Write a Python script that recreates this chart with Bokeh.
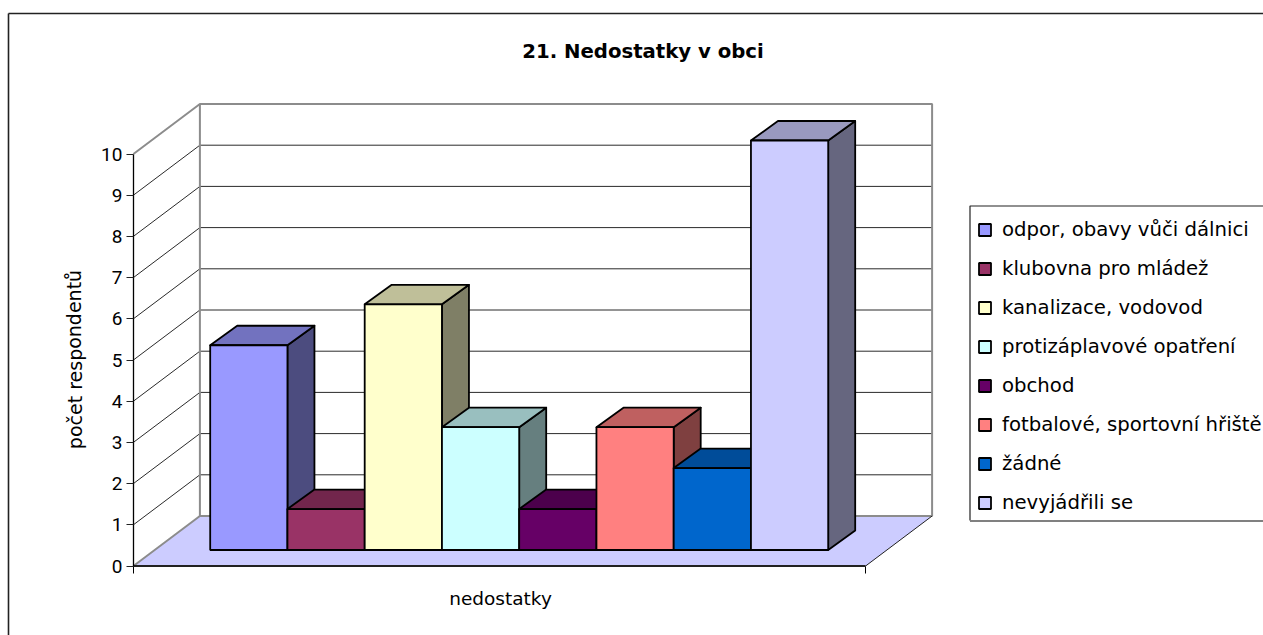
from bokeh.embed import file_html
from bokeh.resources import INLINE
from bokeh.plotting import figure
from bokeh.models import Range1d, LinearAxis, FixedTicker, Legend, LegendItem
from bokeh.core.properties import value

# ---- data
categories = ["odpor, obavy vůči dálnici", "klubovna pro mládež", "kanalizace, vodovod",
              "protizáplavové opatření", "obchod", "fotbalové, sportovní hřiště",
              "žádné", "nevyjádřili se"]
counts = [5, 1, 6, 3, 1, 3, 2, 10]
colors = ["#9999FF", "#993366", "#FFFFCC", "#CCFFFF", "#660066", "#FF8080", "#0066CC", "#CCCCFF"]
y_ticks = list(range(0, 11))
title_text = "21. Nedostatky v obci"
x_label = "nedostatky"
y_label = "počet respondentů"

FONT = "DejaVu Sans"
FS = "19.7px"

# ---- layout (page pixels)
W, H = 1263, 635
PAGE = 0
X0, UX = 209.7, 77.25      # first bar's left edge, one category wide
Y0, UY = 565.5, 41.2       # value 0 on the front plane, one unit high
BAR_UY = 40.95
BAR_BASE = 549.5
FRONT_L, FRONT_R = 132.9, 865.1
DX, DY = 66.5, -50.0       # full chart depth
BX, BY = 27.0, -19.5       # bar depth


def xd(px):
    return (px - X0) / UX


def yd(py):
    return (Y0 - py) / UY


p = figure(width=W, height=H, output_backend="svg", toolbar_location=None,
           x_range=Range1d(xd(PAGE), xd(PAGE + W)), y_range=Range1d(yd(PAGE + H), yd(PAGE)),
           x_axis_location=None, y_axis_location=None, min_border=0,
           outline_line_color=None, background_fill_color="white", border_fill_color="white")
p.grid.visible = False

# outer frame
p.multi_line([[xd(8), xd(8)], [xd(8), xd(1263)]], [[yd(13), yd(635)], [yd(13), yd(13)]],
             line_color="#222222", line_width=1.6)

# floor
p.patch([xd(FRONT_L), xd(FRONT_R), xd(FRONT_R + DX), xd(FRONT_L + DX)],
        [yd(Y0), yd(Y0), yd(Y0 + DY), yd(Y0 + DY)], fill_color="#CCCCFF", line_color=None)

# grid on the walls
for v in y_ticks[1:-1]:
    y = v
    p.line([xd(FRONT_L), xd(FRONT_L + DX), xd(FRONT_R + DX)], [y, y - DY / UY, y - DY / UY],
           line_color="#2a2a2a", line_width=1)
# wall frame
top = y_ticks[-1]
wall_xs = [xd(FRONT_L), xd(FRONT_L + DX), xd(FRONT_R + DX), xd(FRONT_R + DX), xd(FRONT_L + DX), xd(FRONT_L)]
wall_ys = [top, top - DY / UY, top - DY / UY, -DY / UY, -DY / UY, 0]
p.line(wall_xs, wall_ys, line_color="#8c8c8c", line_width=2)
p.line([xd(FRONT_L + DX), xd(FRONT_L + DX)], [-DY / UY, top - DY / UY], line_color="#8c8c8c", line_width=2)
p.line([xd(FRONT_R), xd(FRONT_R + DX)], [0, -DY / UY], line_color="#222222", line_width=1)

# side wall edge on the front floor line
p.line([xd(FRONT_L), xd(FRONT_R)], [0, 0], line_color="#222222", line_width=2)


def shade(c, f):
    r, g, b = int(c[1:3], 16), int(c[3:5], 16), int(c[5:7], 16)
    return "#%02x%02x%02x" % (int(r * f), int(g * f), int(b * f))


# bars
base = yd(BAR_BASE)
scale = BAR_UY / UY
ox, oy = BX / UX, -BY / UY
items = []
for i, (name, v, c) in enumerate(zip(categories, counts, colors)):
    t = base + v * scale
    p.patch([i + 1, i + 1 + ox, i + 1 + ox, i + 1], [base, base + oy, t + oy, t],
            fill_color=shade(c, 0.5), line_color="black", line_width=1.8, line_join="round")
    p.patch([i, i + 1, i + 1 + ox, i + ox], [t, t, t + oy, t + oy],
            fill_color=shade(c, 0.75), line_color="black", line_width=1.8, line_join="round")
    r = p.quad(left=i, right=i + 1, bottom=base, top=t,
               fill_color=c, line_color="black", line_width=1.8)
    items.append(LegendItem(label=name, renderers=[r]))

# axes
ax_y = LinearAxis(fixed_location=xd(FRONT_L), ticker=FixedTicker(ticks=y_ticks), bounds=(0, top),
                  axis_line_color="black", axis_line_width=1.3,
                  major_tick_line_color="#222222", major_tick_line_width=1, major_tick_out=7, major_tick_in=0,
                  minor_tick_line_color=None,
                  major_label_text_font="Roboto", major_label_text_font_size="19px", major_label_text_color="black",
                  major_label_standoff=4, axis_label=None)
p.add_layout(ax_y, "left")
ax_x = LinearAxis(fixed_location=0, ticker=FixedTicker(ticks=[xd(FRONT_L), xd(FRONT_R)]),
                  axis_line_color=None, major_tick_line_color="black", major_tick_line_width=1,
                  major_tick_out=7, major_tick_in=0, minor_tick_line_color=None,
                  major_label_text_font_size="0px", major_label_text_color=None)
p.add_layout(ax_x, "below")

# texts
p.text([xd(642.5)], [yd(51)], text=[title_text], text_font=value(FONT), text_font_size=FS,
       text_font_style="bold", text_align="center", text_baseline="middle", text_color="black")
p.text([xd(500)], [yd(598)], text=[x_label], text_font=value(FONT), text_font_size="18.5px",
       text_align="center", text_baseline="middle", text_color="black")
p.text([xd(74)], [yd(359)], text=[y_label], text_font=value(FONT), text_font_size="19px",
       angle=1.5708, text_align="center", text_baseline="middle", text_color="black")

# legend box, drawn behind the legend rows
p.line([xd(1263), xd(969.5), xd(969.5)], [yd(205.5), yd(205.5), yd(520)], line_color="#222222", line_width=1.2)
p.line([xd(969.5), xd(1263)], [yd(520.5), yd(520.5)], line_color="#808080", line_width=2)

legend = Legend(items=items, location=(977, 635 - 520 + 6), orientation="vertical",
                padding=8, margin=0, spacing=16, label_height=23, glyph_height=15, glyph_width=15,
                label_standoff=10, border_line_color=None, background_fill_alpha=0,
                label_text_font=FONT, label_text_font_size=FS, label_text_color="black",
                label_text_baseline="middle")
p.add_layout(legend, "center")

open("out.html", "w").write(file_html(p, INLINE))
